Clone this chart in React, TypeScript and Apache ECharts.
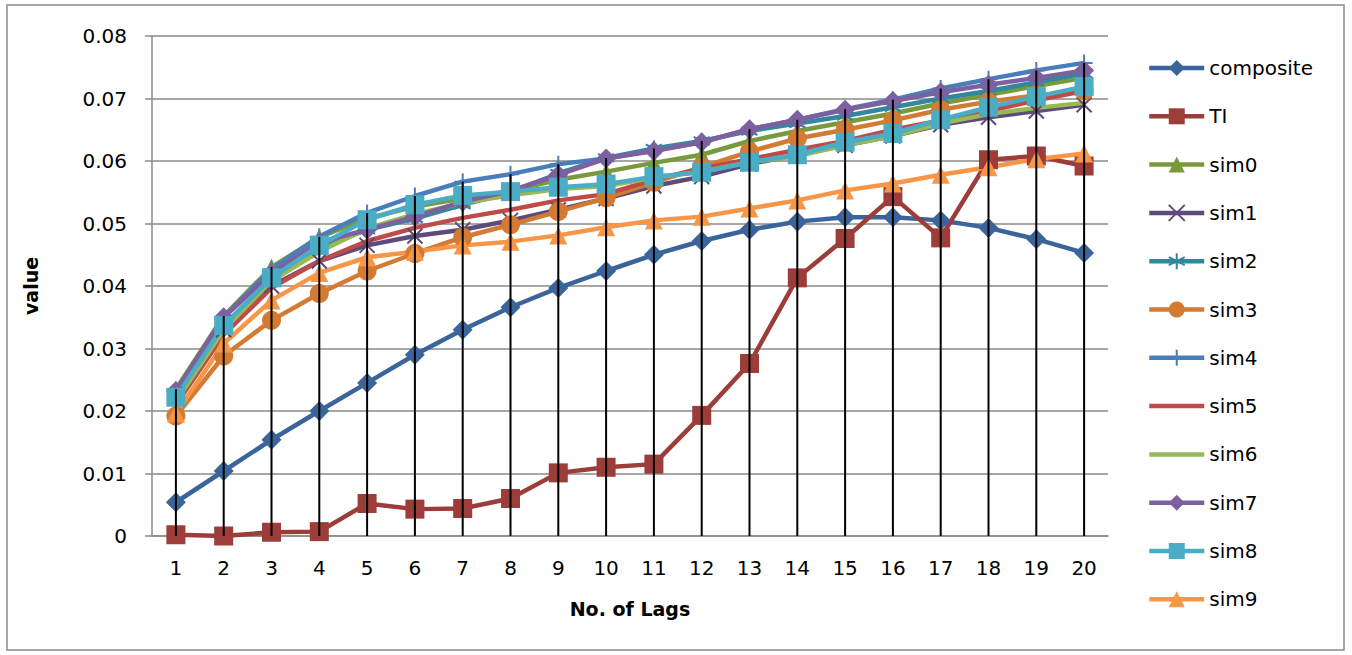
import React, { useEffect, useRef } from "react";
import * as echarts from "echarts";

// Lag numbers on the category axis
const lags = ["1", "2", "3", "4", "5", "6", "7", "8", "9", "10", "11", "12", "13", "14", "15", "16", "17", "18", "19", "20"];

const composite = [0.0054, 0.0104, 0.0154, 0.0200, 0.0245, 0.0290, 0.0330, 0.0366, 0.0397, 0.0424, 0.0450, 0.0472, 0.0490, 0.0503, 0.0510, 0.0510, 0.0505, 0.0493, 0.0475, 0.0453];
const ti = [0.0002, 0.0000, 0.0006, 0.0007, 0.0052, 0.0043, 0.0044, 0.0060, 0.0101, 0.0110, 0.0115, 0.0193, 0.0276, 0.0413, 0.0476, 0.0543, 0.0477, 0.0602, 0.0608, 0.0592];
const sim0 = [0.0235, 0.0352, 0.0430, 0.0478, 0.0508, 0.0527, 0.0540, 0.0552, 0.0570, 0.0583, 0.0597, 0.0610, 0.0632, 0.0648, 0.0662, 0.0676, 0.0692, 0.0706, 0.0720, 0.0733];
const sim1 = [0.0224, 0.0330, 0.0400, 0.0440, 0.0465, 0.0480, 0.0490, 0.0505, 0.0522, 0.0540, 0.0560, 0.0575, 0.0595, 0.0610, 0.0625, 0.0640, 0.0658, 0.0670, 0.0680, 0.0690];
const sim2 = [0.0222, 0.0335, 0.0412, 0.0460, 0.0490, 0.0508, 0.0530, 0.0550, 0.0580, 0.0605, 0.0620, 0.0632, 0.0648, 0.0660, 0.0672, 0.0686, 0.0700, 0.0712, 0.0726, 0.0740];
const sim3 = [0.0192, 0.0288, 0.0345, 0.0388, 0.0424, 0.0452, 0.0478, 0.0498, 0.0519, 0.0541, 0.0566, 0.0590, 0.0615, 0.0636, 0.0650, 0.0665, 0.0682, 0.0695, 0.0705, 0.0712];
const sim4 = [0.0231, 0.0350, 0.0427, 0.0479, 0.0517, 0.0544, 0.0567, 0.0579, 0.0595, 0.0604, 0.0617, 0.0630, 0.0651, 0.0666, 0.0683, 0.0698, 0.0716, 0.0731, 0.0745, 0.0757];
const sim5 = [0.0210, 0.0322, 0.0397, 0.0440, 0.0472, 0.0493, 0.0509, 0.0522, 0.0537, 0.0547, 0.0570, 0.0588, 0.0603, 0.0618, 0.0632, 0.0650, 0.0665, 0.0680, 0.0697, 0.0712];
const sim6 = [0.0215, 0.0330, 0.0408, 0.0455, 0.0492, 0.0515, 0.0533, 0.0545, 0.0555, 0.0560, 0.0573, 0.0583, 0.0598, 0.0608, 0.0625, 0.0640, 0.0660, 0.0675, 0.0685, 0.0693];
const sim7 = [0.0232, 0.0350, 0.0420, 0.0470, 0.0490, 0.0511, 0.0535, 0.0552, 0.0578, 0.0604, 0.0616, 0.0630, 0.0651, 0.0666, 0.0682, 0.0696, 0.0710, 0.0722, 0.0733, 0.0745];
const sim8 = [0.0222, 0.0337, 0.0413, 0.0465, 0.0506, 0.0530, 0.0545, 0.0551, 0.0558, 0.0563, 0.0575, 0.0582, 0.0598, 0.0610, 0.0630, 0.0644, 0.0666, 0.0686, 0.0703, 0.0719];
const sim9 = [0.0196, 0.0308, 0.0377, 0.0421, 0.0446, 0.0455, 0.0465, 0.0471, 0.0481, 0.0494, 0.0505, 0.0511, 0.0524, 0.0537, 0.0553, 0.0564, 0.0578, 0.0590, 0.0603, 0.0612];

const yTicks = [0, 0.01, 0.02, 0.03, 0.04, 0.05, 0.06, 0.07, 0.08];

const CROSS = "path://M0,0L10,10M10,0L0,10";
const STAR = "path://M5,0L5,10M0,2.5L10,7.5M0,7.5L10,2.5";
const PLUS = "path://M5,0L5,10M1,5L9,5";
// plain thick stroke for the legend entries of marker-less series
const BAR_ICON = "path://M0,0H55V4.5H0Z";

const seriesDefs = [
  { name: "composite", data: composite, color: "#3B659A", symbol: "diamond", size: 20 },
  { name: "TI", data: ti, color: "#9C3D3A", symbol: "rect", size: 19 },
  { name: "sim0", data: sim0, color: "#789A3D", symbol: "triangle", size: 17 },
  { name: "sim1", data: sim1, color: "#5F4A7C", symbol: CROSS, size: 15 },
  { name: "sim2", data: sim2, color: "#31879E", symbol: STAR, size: 16 },
  { name: "sim3", data: sim3, color: "#D47B33", symbol: "circle", size: 19 },
  { name: "sim4", data: sim4, color: "#4A7EBB", symbol: PLUS, size: 17 },
  { name: "sim5", data: sim5, color: "#BE4B48", symbol: "none", size: 0 },
  { name: "sim6", data: sim6, color: "#98B954", symbol: "none", size: 0 },
  { name: "sim7", data: sim7, color: "#7D60A0", symbol: "diamond", size: 20 },
  { name: "sim8", data: sim8, color: "#4BACC6", symbol: "rect", size: 19 },
  { name: "sim9", data: sim9, color: "#F79646", symbol: "triangle", size: 18 },
];

const FONT = "DejaVu Sans";
const GRID_GRAY = "#8a8a8a";

export default function App() {
  const ref = useRef<HTMLDivElement>(null);

  useEffect(() => {
    if (!ref.current) return;
    const chart = echarts.init(ref.current, undefined, { renderer: "svg" });

    // highest value at every lag, used for the drop lines
    const tops = lags.map((_, i) => [i, Math.max(...seriesDefs.map((s) => s.data[i]))]);

    const lineSeries = seriesDefs.map((s) => ({
      name: s.name,
      type: "line",
      data: s.data,
      symbol: s.symbol,
      symbolSize: s.size,
      showSymbol: s.symbol !== "none",
      lineStyle: { color: s.color, width: 4.5 },
      itemStyle: { color: s.color, borderColor: s.color, borderWidth: s.symbol.startsWith("path") ? 2 : 0 },
      emphasis: { disabled: true },
    }));

    chart.setOption({
      animation: false,
      backgroundColor: "#ffffff",
      textStyle: { fontFamily: FONT },
      graphic: [
        {
          type: "rect",
          shape: { x: 7, y: 5, width: 1337, height: 645 },
          style: { fill: "none", stroke: GRID_GRAY, lineWidth: 1.5 },
          silent: true,
        },
      ],
      grid: { left: 152, top: 36, width: 956, height: 500, containLabel: false },
      legend: {
        orient: "vertical",
        left: 1147,
        top: 58,
        padding: 0,
        itemWidth: 55,
        itemHeight: 20,
        itemGap: 28.3,
        lineStyle: { width: 4.5 },
        data: seriesDefs.map((s) =>
          s.symbol === "none" ? { name: s.name, icon: BAR_ICON } : { name: s.name }
        ),
        textStyle: { fontFamily: FONT, fontSize: 20, color: "#000", lineHeight: 20 },
      },
      xAxis: {
        type: "category",
        data: lags,
        boundaryGap: true,
        axisLine: { lineStyle: { color: GRID_GRAY, width: 1.5 } },
        axisTick: { show: false },
        axisLabel: { fontFamily: FONT, fontSize: 20, color: "#000", margin: 22 },
        name: "No. of Lags",
        nameLocation: "middle",
        nameGap: 63,
        nameTextStyle: { fontFamily: FONT, fontSize: 19, fontWeight: "bold", color: "#000" },
      },
      yAxis: {
        type: "value",
        min: yTicks[0],
        max: yTicks[yTicks.length - 1],
        interval: yTicks[1] - yTicks[0],
        axisLine: { show: true, lineStyle: { color: GRID_GRAY, width: 1.5 } },
        axisTick: { show: true, length: 7, lineStyle: { color: GRID_GRAY, width: 1.5 } },
        splitLine: { lineStyle: { color: GRID_GRAY, width: 1.5 } },
        axisLabel: {
          fontFamily: FONT,
          fontSize: 20,
          color: "#000",
          margin: 25,
          formatter: (v: number) => (v === 0 ? "0" : v.toFixed(2)),
        },
        name: "value",
        nameLocation: "middle",
        nameRotate: 90,
        nameGap: 112,
        nameTextStyle: { fontFamily: FONT, fontSize: 19, fontWeight: "bold", color: "#000" },
      },
      series: [
        ...lineSeries,
        {
          name: "drop",
          type: "custom",
          data: tops,
          z: 10,
          silent: true,
          renderItem: (_params: any, api: any) => {
            const i = api.value(0);
            const p0 = api.coord([i, 0]);
            const p1 = api.coord([i, api.value(1)]);
            return {
              type: "line",
              shape: { x1: p0[0], y1: p0[1], x2: p1[0], y2: p1[1] },
              style: { stroke: "#000", lineWidth: 2 },
            };
          },
        },
      ],
    });

    return () => chart.dispose();
  }, []);

  return (
    <div
      ref={ref}
      style={{ position: "absolute", left: 0, top: 0, width: 1352, height: 655 }}
    />
  );
}
